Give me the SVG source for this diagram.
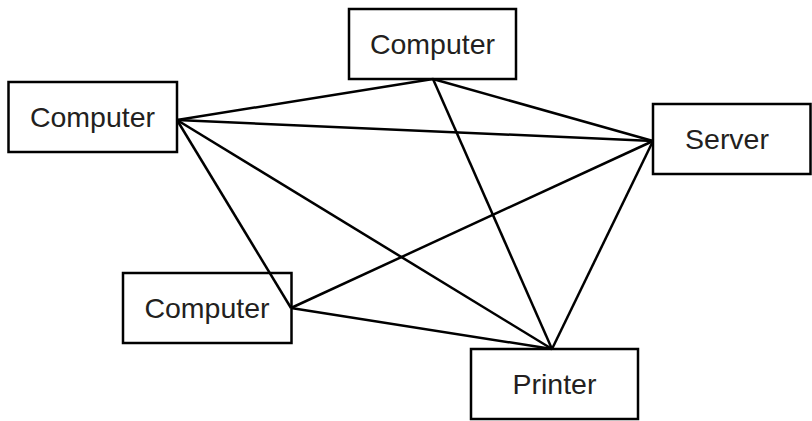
<svg xmlns="http://www.w3.org/2000/svg" width="812" height="421" viewBox="0 0 812 421">
<style>
.box{fill:#fff;stroke:#000;stroke-width:2.5}
.lbl{font-family:"Liberation Sans",Arial,sans-serif;font-size:28.5px;fill:#231f20;text-anchor:middle}
.edge{stroke:#000;stroke-width:2.5;fill:none}
</style>
<rect width="812" height="421" fill="#fff"/>
<g id="computer-top">
<rect class="box" x="349" y="9" width="167" height="70"/>
<text class="lbl" x="432.5" y="54">Computer</text>
</g>
<g id="computer-left">
<rect class="box" x="8.5" y="82" width="168.5" height="70"/>
<text class="lbl" x="92.5" y="127">Computer</text>
</g>
<g id="server">
<rect class="box" x="653" y="104" width="157.5" height="70"/>
<text class="lbl" x="727" y="149">Server</text>
</g>
<g id="computer-bottom">
<rect class="box" x="123" y="273" width="168.5" height="70"/>
<text class="lbl" x="207" y="318">Computer</text>
</g>
<g id="printer">
<rect class="box" x="471" y="349" width="167" height="70"/>
<text class="lbl" x="554.5" y="394">Printer</text>
</g>
<g id="connectors">
<line class="edge" x1="177" y1="120" x2="433" y2="79"/>
<line class="edge" x1="177" y1="120" x2="653" y2="141"/>
<line class="edge" x1="177" y1="120" x2="291" y2="308"/>
<line class="edge" x1="177" y1="120" x2="552" y2="349"/>
<line class="edge" x1="433" y1="79" x2="653" y2="141"/>
<line class="edge" x1="433" y1="79" x2="552" y2="349"/>
<line class="edge" x1="653" y1="141" x2="291" y2="308"/>
<line class="edge" x1="653" y1="141" x2="552" y2="349"/>
<line class="edge" x1="291" y1="308" x2="552" y2="349"/>
</g>
</svg>
